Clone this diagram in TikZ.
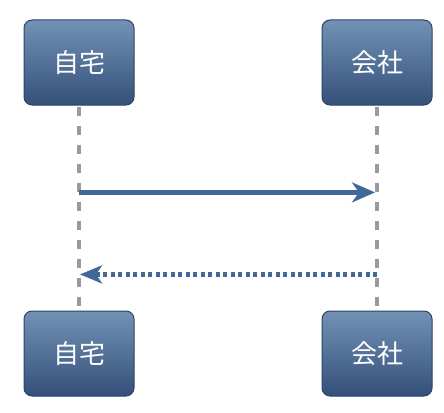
\documentclass[tikz,border=0pt]{standalone}
\usepackage{fontspec}
\newfontfamily\jpfont{Noto Sans CJK JP}
\usetikzlibrary{positioning,calc,arrows.meta}
\definecolor{boxtop}{HTML}{7391B5}
\definecolor{boxbot}{HTML}{34507A}
\definecolor{boxline}{HTML}{2C4468}
\definecolor{msgblue}{HTML}{41689A}
\definecolor{lifegray}{HTML}{9A9A9A}
\begin{document}
\begin{tikzpicture}[
    actor/.style={draw=boxline, line width=1pt, rounded corners=8pt,
      top color=boxtop, bottom color=boxbot, text=white,
      minimum width=110pt, minimum height=85pt, inner sep=0pt,
      font=\jpfont\fontsize{26}{30}\selectfont},
    lifeline/.style={lifegray, line width=3.5pt, dash pattern=on 9pt off 10pt},
    msg/.style={msgblue, line width=5pt, -{Stealth[length=23pt,width=20pt,inset=7pt]}},
    reply/.style={msgblue, line width=4.5pt, dash pattern=on 4pt off 3.5pt,
      -{Stealth[length=22pt,width=18pt,inset=6pt]}}]
    \useasboundingbox (0,0) rectangle (444pt,-412pt);
    \node[actor] (homeTop) at (79pt,-62.5pt) {自宅};
    \node[actor,right=187pt of homeTop] (officeTop) {会社};
    \node[actor,below=205pt of homeTop] (homeBot) {自宅};
    \node[actor,below=205pt of officeTop] (officeBot) {会社};
    \draw[lifeline] (homeTop.south) ++(0,-1pt) -- (homeBot.north);
    \draw[lifeline] (officeTop.south) ++(0,-1pt) -- (officeBot.north);
    \coordinate (homeGo) at ($(homeTop.south)!0.424!(homeBot.north)$);
    \coordinate (officeGo) at ($(officeTop.south)!0.424!(officeBot.north)$);
    \coordinate (homeBack) at ($(homeTop.south)!0.824!(homeBot.north)$);
    \coordinate (officeBack) at ($(officeTop.south)!0.824!(officeBot.north)$);
    \draw[msg] (homeGo) -- ($(officeGo)+(-2pt,0)$);
    \draw[reply] (officeBack) -- ($(homeBack)+(1pt,0)$);
  \end{tikzpicture}
\end{document}
